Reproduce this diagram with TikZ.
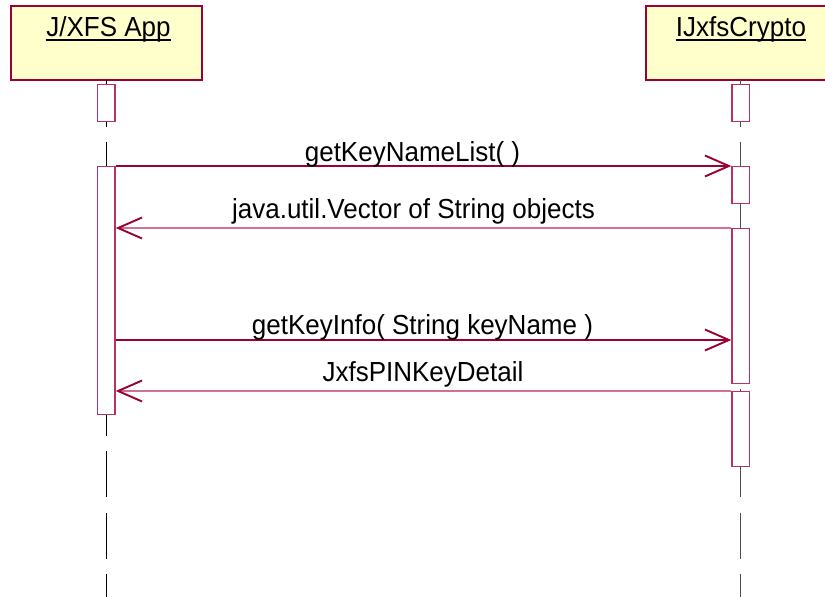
\documentclass[tikz,border=0pt]{standalone}
\usepackage{fontspec}
\setmainfont{Liberation Sans}
\usetikzlibrary{arrows.meta}

\definecolor{crimson}{RGB}{153,0,51}
\definecolor{rosy}{RGB}{208,112,146}
\definecolor{actedge}{RGB}{185,50,95}
\definecolor{notefill}{RGB}{255,255,204}

% slightly tall lettering
\newcommand{\tall}[1]{\scalebox{1}[1.06]{#1}}

\tikzset{
  objbox/.style={draw=crimson, line width=1.5pt, fill=notefill, inner sep=0pt},
  actbox/.style={draw=actedge, line width=1.3pt, fill=white, inner sep=0pt,
                 minimum width=17.5pt, anchor=north},
  lifeline/.style={line width=1pt, dash pattern=on 46.5pt off 15.3pt},
  title/.style={inner sep=0pt, anchor=base, font=\fontsize{26}{30}\selectfont},
  msgtext/.style={inner sep=0pt, anchor=base, font=\fontsize{26}{30}\selectfont},
  callmsg/.style={crimson, line width=1.3pt,
                  -{Straight Barb[length=24pt, width=21pt, line width=1.9pt]}},
  retmsg/.style={rosy, line width=1.3pt,
                 -{Straight Barb[length=24pt, width=21pt, line width=1.9pt, color=crimson]}},
  uline/.style={black, line width=2pt}
}

\begin{document}
\begin{tikzpicture}[x=1pt, y=-1pt]
\useasboundingbox (0,0) rectangle (825,597);

% object heads
\node[objbox, minimum width=191pt, minimum height=74pt] (app) at (106.5,43) {};
\node[objbox, minimum width=190pt, minimum height=74pt] (crypto) at (741,43) {};

% lifelines
\coordinate (appbottom) at (106.3,597);
\coordinate (cryptobottom) at (740.7,597);
\draw[lifeline, black] (106.3,80) -- (appbottom);
\draw[lifeline, black!70] (740.7,80) -- (cryptobottom);

% object names, underlined
\node[title] (appname) at (108.5,36) {\tall{J/XFS App}};
\node[title] (cryptoname) at (741,36) {\tall{IJxfsCrypto}};
\draw[uline] ([yshift=-3.5pt]appname.base west) -- ([yshift=-3.5pt]appname.base east);
\draw[uline] ([yshift=-3.5pt]cryptoname.base west) -- ([yshift=-3.5pt]cryptoname.base east);

% activation bars
\node[actbox, minimum height=37pt] (la1) at (106.3,84) {};
\node[actbox, minimum height=248pt] (la2) at (106.3,166) {};
\node[actbox, minimum height=37pt] (ra1) at (740.7,84) {};
\node[actbox, minimum height=37pt] (ra2) at (740.7,166) {};
\node[actbox, minimum height=155pt] (ra3) at (740.7,228) {};
\node[actbox, minimum height=75pt] (ra4) at (740.7,391) {};

% messages
\coordinate (m3) at (0,340);
\draw[callmsg] (la2.north east) -- (ra2.north west);
\draw[retmsg] (ra3.north west) -- (ra3.north west -| la2.east);
\draw[callmsg] (la2.east |- m3) -- (ra3.west |- m3);
\draw[retmsg] (ra4.north west) -- (ra4.north west -| la2.east);

% message labels
\node[msgtext] (t1) at (412.5,161.5) {\tall{getKeyNameList( )}};
\node[msgtext] (t2) at (413.5,218) {\tall{java.util.Vector of String objects}};
\node[msgtext] (t3) at (422.5,334) {\tall{getKeyInfo( String keyName )}};
\node[msgtext] (t4) at (423,381.5) {\tall{JxfsPINKeyDetail}};
\end{tikzpicture}
\end{document}
